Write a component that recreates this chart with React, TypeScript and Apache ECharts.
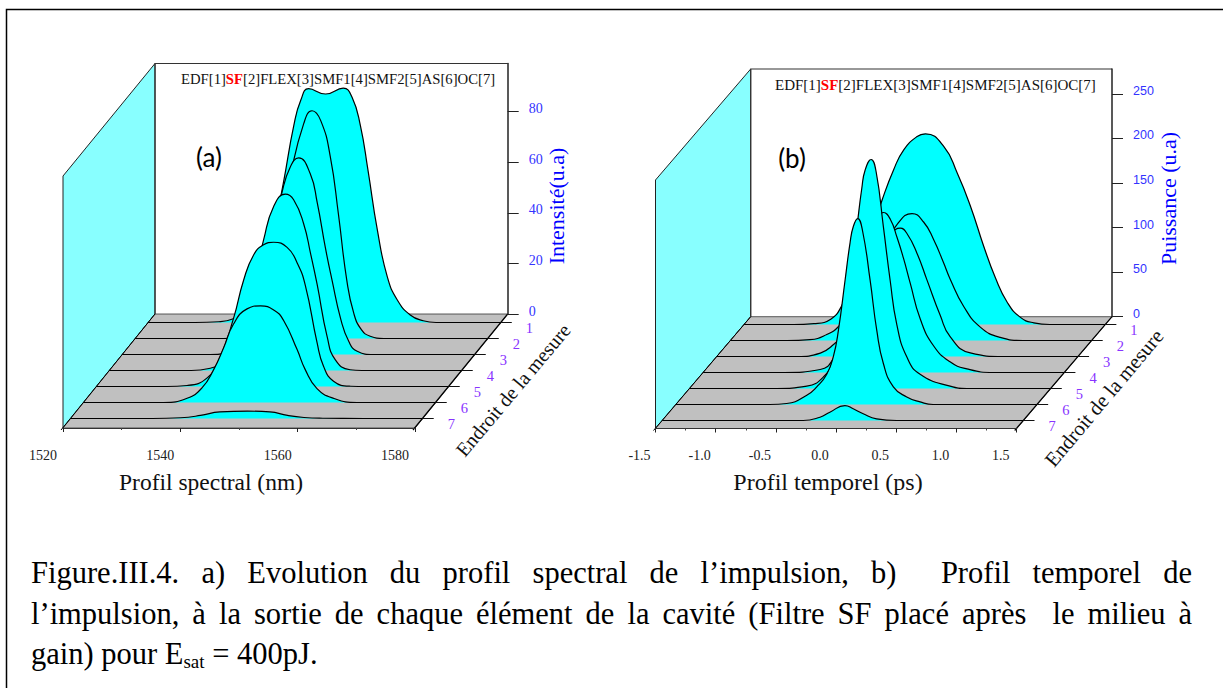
import React, { useEffect, useRef } from "react";
import * as echarts from "echarts";

const legendBefore = "EDF[1]";
const legendRed = "SF";
const legendAfter = "[2]FLEX[3]SMF1[4]SMF2[5]AS[6]OC[7]";
const sliceNames = ["1", "2", "3", "4", "5", "6", "7"];
const intensityTicks = [0, 20, 40, 60, 80];
const powerTicks = [0, 50, 100, 150, 200, 250];

const spec1 = [[1520,0],[1528,0],[1532,0.3],[1534.5,1.5],[1537,5],[1539,14],[1541,32],[1543,55],[1544.8,78],[1546,88],[1547.3,92.4],[1550.2,90.3],[1553.2,92.6],[1554.7,89],[1556.1,78],[1557.4,60.3],[1559,36.6],[1560.7,18],[1562.4,8.9],[1564.6,3],[1566.8,0.7],[1569,0],[1580,0]];
const spec2 = [[1520,0],[1535,0],[1538,1],[1541,6],[1543,18],[1545,45],[1546.5,65],[1548.7,85],[1550.1,90],[1551.6,86],[1553.2,72],[1554.6,49],[1556,23.3],[1557.2,10],[1558.5,3.5],[1560,0.9],[1562.3,0],[1580,0]];
const spec3 = [[1520,0],[1535,0],[1538,1],[1541,7],[1543,20],[1545,41],[1547.2,64],[1548.6,74],[1550.05,77.7],[1552,71.5],[1553.2,60],[1554.6,42],[1555.7,29.6],[1557.2,14],[1558.6,5],[1560,1.3],[1562.8,0],[1580,0]];
const spec4 = [[1520,0],[1534,0],[1537,0.8],[1540,4],[1542,11],[1543.5,22],[1545,38],[1546.3,51.7],[1548,64.8],[1550,69.7],[1551.4,67.5],[1553.1,58],[1554.3,46],[1555.4,34],[1557.1,13.4],[1558.5,4.2],[1561,0.3],[1563,0],[1580,0]];
const spec5 = [[1520,0],[1532,0],[1535.5,0.4],[1538.9,3.4],[1541,11],[1543.4,27],[1545.1,42],[1546.8,52],[1548.5,56],[1550.2,57],[1552.5,55],[1554.2,48.9],[1555.6,40],[1557.6,17.3],[1558.7,8],[1560.4,2.1],[1563.3,0.1],[1566,0],[1580,0]];
const spec6 = [[1520,0],[1533.7,0],[1537.7,1.7],[1540.2,5.7],[1542.2,12.9],[1543.9,21.5],[1545.6,31],[1547.9,37],[1550.2,38.2],[1552.5,36.5],[1554.1,32.5],[1556.4,21],[1557.8,13],[1559.8,5.5],[1562.7,1.6],[1566.6,0],[1580,0]];
const spec7 = [[1520,0],[1534,0],[1538.8,0.3],[1542.2,1.2],[1545.5,2.6],[1550.2,2.9],[1554,2.6],[1557,1.2],[1559.8,0.4],[1563,0.1],[1570,0],[1580,0]];

const temp1 = [[-1.5,0],[-1.09,0],[-0.92,1],[-0.78,6],[-0.685,22],[-0.55,60],[-0.45,100],[-0.353,140],[-0.257,174],[-0.174,196],[-0.063,211],[0.006,214],[0.158,200],[0.27,170],[0.38,132.8],[0.49,87.9],[0.587,52.4],[0.685,25],[0.795,8],[0.906,1.9],[1.04,0],[1.5,0]];
const temp2 = [[-1.5,0],[-1.03,0],[-0.84,1],[-0.7,6.7],[-0.6,16],[-0.45,42],[-0.35,70],[-0.25,100],[-0.117,130],[0.008,142.5],[0.104,133],[0.187,113.4],[0.27,87.2],[0.326,68.5],[0.436,38.5],[0.575,15],[0.74,3.5],[0.93,0],[1.5,0]];
const temp3 = [[-1.5,0],[-0.834,0],[-0.64,3.8],[-0.543,12],[-0.4,32],[-0.3,58],[-0.22,86],[-0.13,118],[-0.05,138],[0.024,144],[0.079,138],[0.162,116],[0.245,86],[0.356,46],[0.439,22],[0.605,4],[0.882,0],[1.5,0]];
const temp4 = [[-1.5,0],[-0.83,0],[-0.528,3.4],[-0.417,16],[-0.3,52],[-0.22,96],[-0.165,126],[-0.11,152],[-0.057,171],[-0.002,179.6],[0.054,172],[0.109,152],[0.164,128],[0.22,100],[0.303,60],[0.413,30],[0.55,12],[0.69,4],[0.911,0],[1.5,0]];
const temp5 = [[-1.5,0],[-0.775,0],[-0.526,2.6],[-0.388,13],[-0.305,31.8],[-0.22,72],[-0.166,121.5],[-0.11,181],[-0.069,225],[-0.042,245],[0.008,257],[0.05,243],[0.11,181.4],[0.166,121.5],[0.221,72],[0.304,35.5],[0.415,16],[0.664,2.6],[0.803,0],[1.5,0]];
const temp6 = [[-1.5,0],[-0.72,0],[-0.58,1.1],[-0.413,10.4],[-0.33,19.8],[-0.247,34],[-0.192,54],[-0.15,83.4],[-0.095,139.5],[-0.053,182],[-0.026,200],[0.01,208.7],[0.05,195],[0.113,139.5],[0.168,83.4],[0.223,46],[0.306,19.8],[0.417,8.5],[0.528,2.9],[0.636,0],[1.5,0]];
const temp7 = [[-1.5,0],[-0.33,0],[-0.19,3.7],[-0.108,9.3],[0.017,16.8],[0.086,13.1],[0.169,7.5],[0.28,1.9],[0.447,0],[1.5,0]];

const spectralSlices = [spec1, spec2, spec3, spec4, spec5, spec6, spec7];
const temporalSlices = [temp1, temp2, temp3, temp4, temp5, temp6, temp7];

const SERIF = "'Liberation Serif', 'Times New Roman', serif";
const SANS = "'Liberation Sans', Arial, sans-serif";

const panelA = {
  backLeft: 155, backRight: 507.7, backTop: 63.5, backBase: 314,
  frontLeft: 63, frontRight: 415, frontBase: 428, wallTop: 176,
  bases: [322.5, 338.5, 354.5, 370.5, 386.5, 402.5, 418.5],
  xMin: 1520, xMax: 1580, xInterval: 20, yMax: 99,
  slices: spectralSlices, yTicks: intensityTicks,
  yFont: SERIF, yFontSize: 14, labelShift: 40, xDigits: 0,
};
const panelB = {
  backLeft: 750.7, backRight: 1112, backTop: 69, backBase: 316.7,
  frontLeft: 655.5, frontRight: 1016.7, frontBase: 428.5, wallTop: 180,
  bases: [324.5, 340.5, 356.5, 372.5, 388.5, 404.5, 420.5],
  xMin: -1.5, xMax: 1.5, xInterval: 0.5, yMax: 278,
  slices: temporalSlices, yTicks: powerTicks,
  yFont: SANS, yFontSize: 12.5, labelShift: 32, xDigits: 1,
};

function buildPanel(p: any, grids: any[], xAxes: any[], yAxes: any[], series: any[]) {
  const h = p.backBase - p.backTop;
  const slope = (p.backRight - p.frontRight) / (p.frontBase - p.backBase);
  const w = p.backRight - p.backLeft;
  const addGrid = (left: number, base: number, width: number) => {
    grids.push({ left, top: base - h, width, height: h, containLabel: false });
    return grids.length - 1;
  };
  const hiddenX = (gridIndex: number) => ({
    type: "value", gridIndex, min: p.xMin, max: p.xMax, show: false, splitLine: { show: false },
  });

  // back wall axis (intensity / power)
  const back = addGrid(p.backLeft, p.backBase, w);
  xAxes.push(hiddenX(back));
  yAxes.push({
    type: "value", gridIndex: back, position: "right", min: 0, max: p.yMax, z: 30,
    splitLine: { show: false },
    axisLine: { show: true, onZero: false, lineStyle: { color: "#222", width: 1.5 } },
    axisTick: { show: true, length: 11, customValues: p.yTicks, lineStyle: { color: "#222", width: 1 } },
    axisLabel: {
      customValues: p.yTicks, margin: 21, color: "#3333ff",
      fontFamily: p.yFont, fontSize: p.yFontSize, verticalAlign: "bottom", lineHeight: 6,
    },
  });

  // one grid per measuring point, shifted along the depth axis
  p.slices.forEach((data: number[][], i: number) => {
    const base = p.bases[i];
    const left = p.backLeft - slope * (base - p.backBase);
    const g = addGrid(left, base, w);
    xAxes.push(hiddenX(g));
    yAxes.push({
      type: "value", gridIndex: g, position: "right", min: 0, max: p.yMax, z: 30,
      splitLine: { show: false },
      axisLine: { show: false, onZero: false },
      axisTick: { show: true, length: 11, customValues: [0], lineStyle: { color: "#111", width: 1 } },
      axisLabel: {
        customValues: [0], margin: 25, color: "#8833ff",
        fontFamily: SERIF, fontSize: 14.5, verticalAlign: "top", lineHeight: 11,
        formatter: () => sliceNames[i],
      },
    });
    series.push({
      type: "line", xAxisIndex: xAxes.length - 1, yAxisIndex: yAxes.length - 1,
      data, smooth: 0.5, showSymbol: false, symbol: "none", clip: false,
      z: 3 + i, silent: true,
      lineStyle: { color: "#000", width: 1.2 },
      areaStyle: { color: "#00ffff", opacity: 1 },
    });
  });

  // front axis (wavelength / time)
  const front = addGrid(p.frontLeft, p.frontBase, p.frontRight - p.frontLeft);
  xAxes.push({
    type: "value", gridIndex: front, position: "bottom", min: p.xMin, max: p.xMax, interval: p.xInterval, z: 30,
    splitLine: { show: false },
    axisLine: { show: true, onZero: false, lineStyle: { color: "#333", width: 1 } },
    axisTick: { show: true, length: 4, lineStyle: { color: "#222" } },
    minorTick: { show: true, splitNumber: 2, length: 2, lineStyle: { color: "#444" } },
    axisLabel: {
      margin: 20, color: "#222", fontFamily: SERIF, fontSize: 14, hideOverlap: false,
      showMinLabel: true, showMaxLabel: true,
      padding: [0, p.labelShift, 0, 0],
      formatter: (v: number) => v.toFixed(p.xDigits),
    },
  });
  yAxes.push({ type: "value", gridIndex: front, min: 0, max: p.yMax, show: false, splitLine: { show: false } });
}

function panelFrame(p: any) {
  return [
    { type: "polygon", z: 0, shape: { points: [[p.frontLeft, p.wallTop], [p.backLeft, p.backTop], [p.backLeft, p.backBase], [p.frontLeft, p.frontBase]] },
      style: { fill: "#88ffff", stroke: "#222", lineWidth: 1 } },
    { type: "polyline", z: 0, shape: { points: [[p.backLeft, p.backBase], [p.backLeft, p.backTop], [p.backRight, p.backTop]] },
      style: { fill: "none", stroke: "#333", lineWidth: 1.2 } },
    { type: "polygon", z: 0, shape: { points: [[p.backLeft, p.backBase], [p.backRight, p.backBase], [p.frontRight, p.frontBase], [p.frontLeft, p.frontBase]] },
      style: { fill: "#c0c0c0", stroke: "#333", lineWidth: 0.8 } },
    { type: "line", z: 25, shape: { x1: p.backRight, y1: p.backBase, x2: p.frontRight - 2, y2: p.frontBase + 2 },
      style: { stroke: "#000", lineWidth: 1.2 } },
    { type: "line", z: 25, shape: { x1: p.backLeft, y1: p.backBase, x2: p.frontLeft - 2, y2: p.frontBase + 2 },
      style: { stroke: "#000", lineWidth: 1 } },
  ];
}

function txt(text: string, x: number, y: number, font: string, size: number, fill: string, extra: any = {}) {
  return {
    type: "text", z: 40, x, y, ...extra,
    style: { text, fontFamily: font, fontSize: size, fill, textAlign: "center", textVerticalAlign: "middle" },
  };
}

const captionLines = [
  "Figure.III.4. a) Evolution du profil spectral de l\u2019impulsion, b)  Profil temporel de",
  "l\u2019impulsion, \u00e0 la sortie de chaque \u00e9l\u00e9ment de la cavit\u00e9 (Filtre SF plac\u00e9 apr\u00e8s  le milieu \u00e0",
];
const captionLast = ["gain) pour E", "sat", " = 400pJ."];
const CAPTION_SIZE = 30.5;

function captionGraphics() {
  const ctx = document.createElement("canvas").getContext("2d")!;
  ctx.font = `${CAPTION_SIZE}px 'Liberation Serif'`;
  const out: any[] = [];
  const left = 31, right = 1192;
  const ys = [573, 614];
  const put = (t: string, x: number, y: number, size = CAPTION_SIZE) => ({
    type: "text", z: 40, x, y,
    style: { text: t, fontFamily: SERIF, fontSize: size, fill: "#000", textAlign: "left", textVerticalAlign: "middle" },
  });
  captionLines.forEach((line, i) => {
    const tokens = line.split(" ");
    const words = tokens.filter((t) => t.length);
    const total = words.reduce((s, t) => s + ctx.measureText(t).width, 0);
    const gap = (right - left - total) / (tokens.length - 1);
    let x = left;
    tokens.forEach((t) => {
      if (t.length) {
        out.push(put(t, x, ys[i]));
        x += ctx.measureText(t).width;
      }
      x += gap;
    });
  });
  const w0 = ctx.measureText(captionLast[0]).width;
  out.push(put(captionLast[0], left, 654));
  out.push(put(captionLast[1], left + w0, 661, 19));
  ctx.font = `19px 'Liberation Serif'`;
  const w1 = ctx.measureText(captionLast[1]).width;
  out.push(put(captionLast[2], left + w0 + w1, 654));
  return out;
}

function legendText(x: number, y: number, size: number) {
  return {
    type: "text", z: 40, x, y,
    style: {
      text: `${legendBefore}{r|${legendRed}}${legendAfter}`,
      fontFamily: SERIF, fontSize: size, fill: "#111", textAlign: "left", textVerticalAlign: "middle",
      rich: { r: { fill: "#ff0000", fontWeight: "bold", fontFamily: SERIF, fontSize: size } },
    },
  };
}

export default function App() {
  const ref = useRef<HTMLDivElement>(null);
  useEffect(() => {
    const chart = echarts.init(ref.current!, undefined, { renderer: "svg" });
    const grids: any[] = [], xAxes: any[] = [], yAxes: any[] = [], series: any[] = [];
    buildPanel(panelA, grids, xAxes, yAxes, series);
    buildPanel(panelB, grids, xAxes, yAxes, series);
    const angle = (50 * Math.PI) / 180;
    chart.setOption({
      animation: false,
      backgroundColor: "#fff",
      grid: grids, xAxis: xAxes, yAxis: yAxes, series,
      graphic: {
        elements: [
          { type: "polyline", z: 40, shape: { points: [[6.5, 688], [6.5, 9.5], [1223, 9.5]] }, style: { fill: "none", stroke: "#000", lineWidth: 1.5 } },
          ...panelFrame(panelA),
          ...panelFrame(panelB),
          legendText(181, 79, 14.7),
          legendText(775, 85, 15),
          txt("(a)", 209, 157, "Lato, sans-serif", 26, "#000"),
          txt("(b)", 792, 158, "Lato, sans-serif", 26, "#000"),
          txt("Intensit\u00e9(u.a)", 556, 206, SERIF, 22, "#0000ff", { rotation: Math.PI / 2 }),
          txt("Puissance (u.a)", 1168, 198.5, SERIF, 22, "#0000ff", { rotation: Math.PI / 2 }),
          txt("Profil spectral (nm)", 211, 482, SERIF, 23.5, "#111"),
          txt("Profil temporel (ps)", 828, 482, SERIF, 24, "#111"),
          txt("Endroit de la mesure", 513, 390, SERIF, 20, "#111", { rotation: angle }),
          txt("Endroit de la mesure", 1104, 398, SERIF, 20.7, "#111", { rotation: angle }),
          ...captionGraphics(),
        ],
      },
    });
    return () => chart.dispose();
  }, []);
  return (
    <div style={{ position: "fixed", left: 0, top: 0, width: 1223, height: 688, background: "#fff" }}>
      <div ref={ref} style={{ width: 1223, height: 688 }} />
    </div>
  );
}
